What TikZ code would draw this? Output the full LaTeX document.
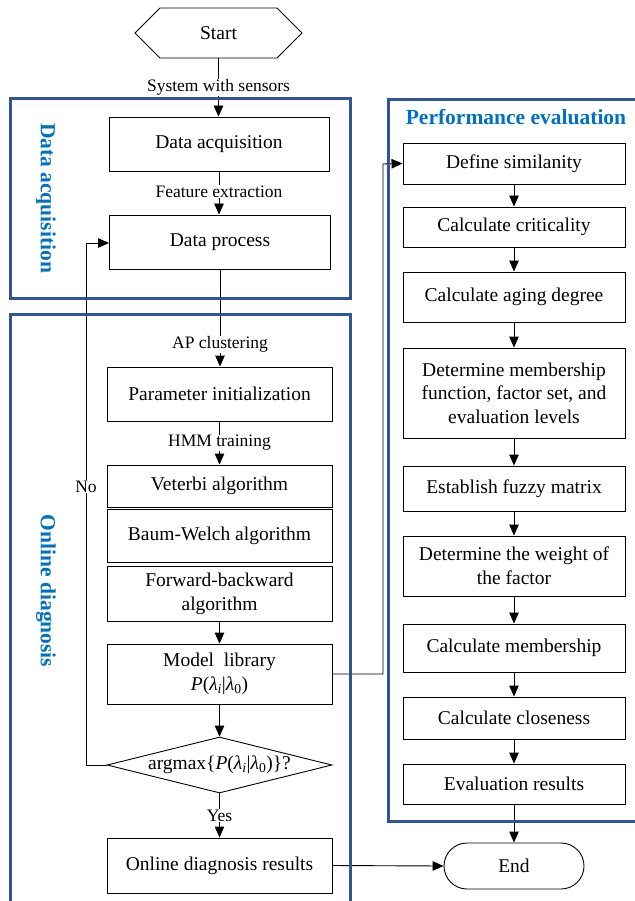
\documentclass[tikz,border=0pt]{standalone}
\usepackage{fontspec}
\setmainfont{Liberation Serif}
\usetikzlibrary{arrows.meta,shapes.geometric,shapes.misc}
\definecolor{framecol}{HTML}{2F5597}
\definecolor{titlecol}{HTML}{0070C0}
\tikzset{
  box/.style={draw, line width=0.9pt, minimum width=#1, inner sep=2pt, align=center, font=\fontsize{19.5}{22}\selectfont},
  box/.default=222pt,
  lbl/.style={fill=white, inner sep=0.5pt, font=\fontsize{17.5}{20}\selectfont},
  conn/.style={line width=0.9pt},
  arr/.style={conn, -{Triangle[length=11pt,width=9.5pt]}},
  frame/.style={draw=framecol, line width=3pt},
  ttl/.style={text=titlecol, font=\bfseries\fontsize{21.5}{24}\selectfont}
}
\begin{document}
\begin{tikzpicture}[x=1pt,y=-1pt]
\useasboundingbox (0,0) rectangle (634,901);
% left column nodes
\node[draw, line width=0.9pt, chamfered rectangle, chamfered rectangle xsep=30pt, chamfered rectangle sep=21pt, minimum width=167pt, minimum height=42pt, inner sep=0pt, font=\fontsize{19.5}{22}\selectfont] (start) at (218.5,33) {Start};
\node[box=220pt, minimum height=54pt] (acq) at (219,144) {Data acquisition};
\node[box=221pt, minimum height=54pt] (proc) at (220,242) {Data process};
\node[box=225pt, minimum height=54pt] (init) at (219.5,394) {Parameter initialization};
\node[box=225pt, minimum height=42pt] (vet) at (219.5,486) {Veterbi algorithm};
\node[box=225pt, minimum height=53pt] (baum) at (219.5,536) {Baum-Welch algorithm};
\node[box=225pt, minimum height=55pt, font=\fontsize{19.5}{24}\selectfont] (fwd) at (219.5,593.5) {Forward-backward\\algorithm};
\node[box=225pt, minimum height=60pt, font=\fontsize{19.5}{24}\selectfont] (lib) at (219.5,674) {Model~~library\\\textit{P}(\textit{λ}\textsubscript{\textit{i}}|\textit{λ}\textsubscript{0})};
\node[draw, line width=0.9pt, diamond, aspect=4.02, minimum width=225pt, minimum height=56pt, inner sep=0pt, font=\fontsize{19.5}{22}\selectfont] (dec) at (219.5,765) {argmax\{\textit{P}(\textit{λ}\textsubscript{\textit{i}}|\textit{λ}\textsubscript{0})\}?};
\node[box=225pt, minimum height=55pt] (res) at (219.5,865.5) {Online diagnosis results};
% right column nodes
\node[box, minimum height=41pt] (sim) at (514,163.5) {Define similanity};
\node[box, minimum height=40pt] (crit) at (514,227) {Calculate criticality};
\node[box, minimum height=50pt] (aging) at (514,297) {Calculate aging degree};
\node[box, minimum height=90pt, font=\fontsize{19.5}{23.5}\selectfont] (memf) at (514,393) {Determine membership\\function, factor set, and\\evaluation levels};
\node[box, minimum height=45pt] (fuzzy) at (514,488.5) {Establish fuzzy matrix};
\node[box, minimum height=60pt, font=\fontsize{19.5}{24}\selectfont] (weight) at (514,566) {Determine the weight of\\the factor};
\node[box, minimum height=48pt] (memb) at (514,648) {Calculate membership};
\node[box, minimum height=42pt] (close) at (514,718) {Calculate closeness};
\node[box, minimum height=40pt] (evalr) at (514,784) {Evaluation results};
\node[draw, line width=0.9pt, rounded rectangle, minimum width=140pt, minimum height=46pt, inner sep=0pt, font=\fontsize{19.5}{22}\selectfont] (end) at (514,866) {End};
% connectors left
\draw[arr] (start.south) -- node[lbl, pos=0.5] (l1) {System with sensors} (start.south |- acq.north);
\draw[arr] (acq.south) -- node[lbl, pos=0.47] (l2) {Feature extraction} (acq.south |- proc.north);
\draw[arr] (proc.south) -- node[lbl, pos=0.77] (l3) {AP clustering} (proc.south |- init.north);
\draw[arr] (init.south) -- node[lbl, pos=0.5] (l4) {HMM training} (init.south |- vet.north);
\draw[arr] (fwd.south) -- (lib.north);
\draw[arr] (lib.south) -- (dec.north);
\draw[arr] (dec.south) -- node[lbl, pos=0.5] (l5) {Yes} (dec.south |- res.north);
\coordinate (fb1) at (86,765);
\coordinate (fb2) at (86,243);
\draw[arr] (dec.west) -- (fb1) -- node[lbl, pos=0.533] (l6) {No} (fb2) -- (fb2 -| proc.west);
\coordinate (c1) at (383,674);
\coordinate (c2) at (383,164);
\draw[arr] (lib.east) -- (c1) -- (c2) -- (sim.west);
\draw[arr] (res.east) -- (end.west);
% connectors right
\draw[arr] (sim) -- (crit);
\draw[arr] (crit) -- (aging);
\draw[arr] (aging) -- (memf);
\draw[arr] (memf) -- (fuzzy);
\draw[arr] (fuzzy) -- (weight);
\draw[arr] (weight) -- (memb);
\draw[arr] (memb) -- (close);
\draw[arr] (close) -- (evalr);
\draw[arr] (evalr) -- (end);
% containers (drawn over the connectors, as in the reference)
\draw[frame] (10,99) rectangle (350,298);
\draw[frame] (10,905) -- (10,314) -- (350,314) -- (350,905);
\draw[frame] (640,100) -- (388,100) -- (388,821) -- (640,821);
\node[ttl, rotate=-90] (t1) at (46,198) {Data acquisition};
\node[ttl, rotate=-90] (t2) at (46,591) {Online diagnosis};
\node[ttl] (t3) at (516,117) {Performance evaluation};
\end{tikzpicture}
\end{document}
